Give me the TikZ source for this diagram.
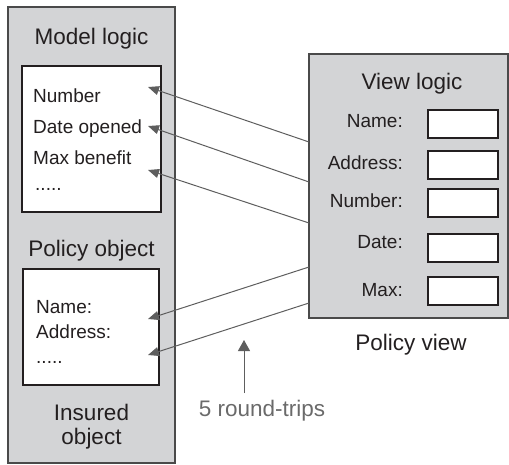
\documentclass[tikz,border=0pt]{standalone}
\usepackage{fontspec}
\setmainfont{Liberation Sans}
\usetikzlibrary{arrows.meta}
\definecolor{panelgray}{HTML}{D3D4D6}
\definecolor{edgegray}{HTML}{4A4A4A}
\definecolor{arrowgray}{HTML}{5E5E5E}
\definecolor{textdark}{HTML}{231F20}
\definecolor{notegray}{HTML}{6A6A6A}
\tikzset{
  panel/.style={draw=edgegray, fill=panelgray, line width=1.2pt, inner sep=0pt},
  whitebox/.style={draw=textdark, fill=white, line width=1.1pt, inner sep=0pt},
  title/.style={font=\fontsize{22.5}{26}\selectfont, text=textdark, inner sep=0pt},
  body/.style={font=\fontsize{19}{22}\selectfont, text=textdark, inner sep=0pt},
  link/.style={draw=arrowgray, line width=1pt, -{Triangle[length=11pt,width=9pt]}},
  note/.style={font=\fontsize{22.5}{26}\selectfont, text=notegray, inner sep=0pt}
}
\begin{document}
\begin{tikzpicture}[x=1pt,y=-1pt]
\useasboundingbox (0,0) rectangle (509,464);
% left panel
\node[panel, minimum width=167pt, minimum height=456pt] (left) at (91.5,235) {};
\node[whitebox, minimum width=139pt, minimum height=146pt] (model) at (91.5,139) {};
\node[whitebox, minimum width=136pt, minimum height=116pt] (policy) at (91,327) {};
% right panel
\node[panel, minimum width=199pt, minimum height=264pt] (view) at (408.5,186) {};
\foreach \n/\y in {b1/124, b2/165, b3/203, b4/248, b5/291}
  \node[whitebox, minimum width=70pt, minimum height=28pt] (\n) at (463,\y) {};
% titles
\node[title, anchor=base] (tml) at (91.5,44) {Model logic};
\node[title, anchor=base] (tpo) at (91.5,256) {Policy object};
\node[title, anchor=base] (tins) at (91.5,420) {Insured};
\node[title, anchor=base] (tobj) at (91.5,444) {object};
\node[title, anchor=base] (tvl) at (412,89) {View logic};
\node[title, anchor=base] (tpv) at (411,350) {Policy view};
% model fields
\node[body, anchor=base west] (mnum) at (33,102) {Number};
\node[body, anchor=base west] (mdate) at (33,133) {Date opened};
\node[body, anchor=base west] (mmax) at (33,164) {Max benefit};
\node[body, anchor=base west] (mdots) at (35,190) {.....};
% policy fields
\node[body, anchor=base west] (pname) at (36,313) {Name:};
\node[body, anchor=base west] (paddr) at (36,338) {Address:};
\node[body, anchor=base west] (pdots) at (36,363) {.....};
% view labels
\node[body, anchor=base east] (vname) at (403,127) {Name:};
\node[body, anchor=base east] (vaddr) at (403,169) {Address:};
\node[body, anchor=base east] (vnum) at (403,207) {Number:};
\node[body, anchor=base east] (vdate) at (403,248) {Date:};
\node[body, anchor=base east] (vmax) at (403,296) {Max:};
% connector ends
\coordinate (s1) at (309,142); \coordinate (t1) at (148,87);
\coordinate (s2) at (309,182); \coordinate (t2) at (148,126);
\coordinate (s3) at (309,223); \coordinate (t3) at (148,170);
\coordinate (s4) at (309,267); \coordinate (t4) at (148,319);
\coordinate (s5) at (309,303); \coordinate (t5) at (148,355);
\foreach \i in {1,...,5} \draw[link] (s\i) -- (t\i);
% round trips
\node[note, anchor=base] (rt) at (262,416) {5 round-trips};
\coordinate (rtop) at (244,340);
\coordinate (rbot) at (244,393);
\draw[link, -{Triangle[length=11pt,width=12pt]}] (rbot) -- (rtop);
\end{tikzpicture}
\end{document}
